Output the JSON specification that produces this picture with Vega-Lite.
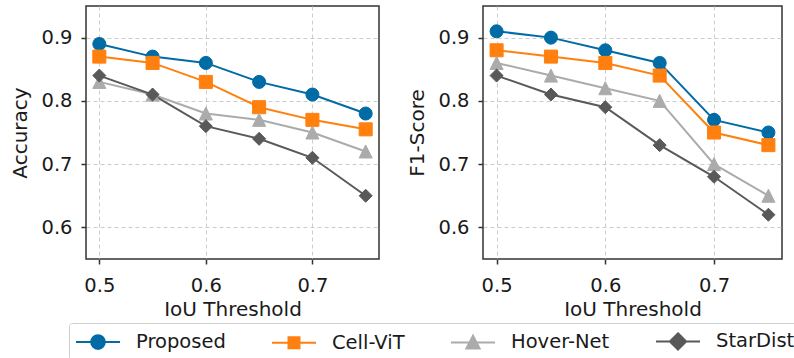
{
  "$schema": "https://vega.github.io/schema/vega-lite/v6.json",
  "padding": {"left": 10, "top": 5, "right": 0, "bottom": 0},
  "background": "white",
  "data": {"values": [
    {"metric": "Accuracy", "method": "Proposed", "iou": 0.5, "value": 0.89},
    {"metric": "Accuracy", "method": "Proposed", "iou": 0.55, "value": 0.87},
    {"metric": "Accuracy", "method": "Proposed", "iou": 0.6, "value": 0.86},
    {"metric": "Accuracy", "method": "Proposed", "iou": 0.65, "value": 0.83},
    {"metric": "Accuracy", "method": "Proposed", "iou": 0.7, "value": 0.81},
    {"metric": "Accuracy", "method": "Proposed", "iou": 0.75, "value": 0.78},
    {"metric": "Accuracy", "method": "Cell-ViT", "iou": 0.5, "value": 0.87},
    {"metric": "Accuracy", "method": "Cell-ViT", "iou": 0.55, "value": 0.86},
    {"metric": "Accuracy", "method": "Cell-ViT", "iou": 0.6, "value": 0.83},
    {"metric": "Accuracy", "method": "Cell-ViT", "iou": 0.65, "value": 0.79},
    {"metric": "Accuracy", "method": "Cell-ViT", "iou": 0.7, "value": 0.77},
    {"metric": "Accuracy", "method": "Cell-ViT", "iou": 0.75, "value": 0.755},
    {"metric": "Accuracy", "method": "Hover-Net", "iou": 0.5, "value": 0.83},
    {"metric": "Accuracy", "method": "Hover-Net", "iou": 0.55, "value": 0.81},
    {"metric": "Accuracy", "method": "Hover-Net", "iou": 0.6, "value": 0.78},
    {"metric": "Accuracy", "method": "Hover-Net", "iou": 0.65, "value": 0.77},
    {"metric": "Accuracy", "method": "Hover-Net", "iou": 0.7, "value": 0.75},
    {"metric": "Accuracy", "method": "Hover-Net", "iou": 0.75, "value": 0.72},
    {"metric": "Accuracy", "method": "StarDist", "iou": 0.5, "value": 0.84},
    {"metric": "Accuracy", "method": "StarDist", "iou": 0.55, "value": 0.81},
    {"metric": "Accuracy", "method": "StarDist", "iou": 0.6, "value": 0.76},
    {"metric": "Accuracy", "method": "StarDist", "iou": 0.65, "value": 0.74},
    {"metric": "Accuracy", "method": "StarDist", "iou": 0.7, "value": 0.71},
    {"metric": "Accuracy", "method": "StarDist", "iou": 0.75, "value": 0.65},
    {"metric": "F1-Score", "method": "Proposed", "iou": 0.5, "value": 0.91},
    {"metric": "F1-Score", "method": "Proposed", "iou": 0.55, "value": 0.90},
    {"metric": "F1-Score", "method": "Proposed", "iou": 0.6, "value": 0.88},
    {"metric": "F1-Score", "method": "Proposed", "iou": 0.65, "value": 0.86},
    {"metric": "F1-Score", "method": "Proposed", "iou": 0.7, "value": 0.77},
    {"metric": "F1-Score", "method": "Proposed", "iou": 0.75, "value": 0.75},
    {"metric": "F1-Score", "method": "Cell-ViT", "iou": 0.5, "value": 0.88},
    {"metric": "F1-Score", "method": "Cell-ViT", "iou": 0.55, "value": 0.87},
    {"metric": "F1-Score", "method": "Cell-ViT", "iou": 0.6, "value": 0.86},
    {"metric": "F1-Score", "method": "Cell-ViT", "iou": 0.65, "value": 0.84},
    {"metric": "F1-Score", "method": "Cell-ViT", "iou": 0.7, "value": 0.75},
    {"metric": "F1-Score", "method": "Cell-ViT", "iou": 0.75, "value": 0.73},
    {"metric": "F1-Score", "method": "Hover-Net", "iou": 0.5, "value": 0.86},
    {"metric": "F1-Score", "method": "Hover-Net", "iou": 0.55, "value": 0.84},
    {"metric": "F1-Score", "method": "Hover-Net", "iou": 0.6, "value": 0.82},
    {"metric": "F1-Score", "method": "Hover-Net", "iou": 0.65, "value": 0.80},
    {"metric": "F1-Score", "method": "Hover-Net", "iou": 0.7, "value": 0.70},
    {"metric": "F1-Score", "method": "Hover-Net", "iou": 0.75, "value": 0.65},
    {"metric": "F1-Score", "method": "StarDist", "iou": 0.5, "value": 0.84},
    {"metric": "F1-Score", "method": "StarDist", "iou": 0.55, "value": 0.81},
    {"metric": "F1-Score", "method": "StarDist", "iou": 0.6, "value": 0.79},
    {"metric": "F1-Score", "method": "StarDist", "iou": 0.65, "value": 0.73},
    {"metric": "F1-Score", "method": "StarDist", "iou": 0.7, "value": 0.68},
    {"metric": "F1-Score", "method": "StarDist", "iou": 0.75, "value": 0.62}
  ]},
  "spacing": 27,
  "hconcat": [
    {
      "width": 293,
      "height": 253,
      "transform": [{"filter": "datum.metric === 'Accuracy'"}],
      "encoding": {
        "x": {"field": "iou", "type": "quantitative", "title": "IoU Threshold",
              "scale": {"domain": [0.4875, 0.7625], "nice": false, "zero": false},
              "axis": {"values": [0.5, 0.6, 0.7], "format": ".1f"}},
        "y": {"field": "value", "type": "quantitative", "title": "Accuracy",
              "scale": {"domain": [0.55, 0.95], "nice": false, "zero": false},
              "axis": {"values": [0.6, 0.7, 0.8, 0.9], "format": ".1f"}},
        "color": {"field": "method", "type": "nominal",
                  "scale": {"domain": ["Proposed", "Cell-ViT", "Hover-Net", "StarDist"], "range": ["#006BA4", "#FF800E", "#ABABAB", "#595959"]},
                  "legend": {
                    "orient": "none", "direction": "horizontal", "columns": 4,
                    "legendX": -17, "legendY": 317, "title": null,
                    "symbolSize": 484, "labelOffset": 37, "columnPadding": 42,
                    "padding": 6, "strokeColor": "#cfcfcf", "fillColor": "white", "cornerRadius": 3,
                    "labelFont": "DejaVu Sans", "labelFontSize": 19.5, "labelColor": "#1a1a1a", "labelLimit": 300,
                    "symbolStrokeWidth": 2, "symbolOpacity": 1,
                    "encode": {"symbols": {"update": {
                      "shape": {"signal": "datum.value === 'Proposed' ? 'M-1,0H3M1.62,0A0.62,0.62 0 1,1 0.38,0A0.62,0.62 0 1,1 1.62,0Z' : datum.value === 'Cell-ViT' ? 'M-1,0H3M0.5,-0.5H1.5V0.5H0.5Z' : datum.value === 'Hover-Net' ? 'M-1,0H3M1,-0.62L0.4,0.55L1.6,0.55Z' : 'M-1,0H3M1,-0.74L1.74,0L1,0.74L0.26,0Z'"},
                      "strokeWidth": {"value": 2},
                      "opacity": {"value": 1}
                    }}}
                  }}
      },
      "layer": [
        {"mark": {"type": "line", "strokeWidth": 2}},
        {"mark": {"type": "point", "filled": true, "opacity": 1, "size": 170, "strokeWidth": 1},
         "encoding": {
           "shape": {"field": "method", "type": "nominal", "legend": null,
                     "scale": {"domain": ["StarDist", "Hover-Net", "Cell-ViT", "Proposed"], "range": ["diamond", "M0,-1L-1,1L1,1Z", "square", "circle"]}},
           "stroke": {"field": "method", "type": "nominal", "legend": null, "scale": {"domain": ["Proposed", "Cell-ViT", "Hover-Net", "StarDist"], "range": ["#006BA4", "#FF800E", "#ABABAB", "#595959"]}}
         }}
      ]
    },
    {
      "width": 299,
      "height": 253,
      "transform": [{"filter": "datum.metric === 'F1-Score'"}],
      "encoding": {
        "x": {"field": "iou", "type": "quantitative", "title": "IoU Threshold",
              "scale": {"domain": [0.4875, 0.7625], "nice": false, "zero": false},
              "axis": {"values": [0.5, 0.6, 0.7], "format": ".1f"}},
        "y": {"field": "value", "type": "quantitative", "title": "F1-Score",
              "scale": {"domain": [0.55, 0.95], "nice": false, "zero": false},
              "axis": {"values": [0.6, 0.7, 0.8, 0.9], "format": ".1f"}},
        "color": {"field": "method", "type": "nominal",
                  "scale": {"domain": ["Proposed", "Cell-ViT", "Hover-Net", "StarDist"], "range": ["#006BA4", "#FF800E", "#ABABAB", "#595959"]},
                  "legend": {
                    "orient": "none", "direction": "horizontal", "columns": 4,
                    "legendX": -17, "legendY": 317, "title": null,
                    "symbolSize": 484, "labelOffset": 37, "columnPadding": 42,
                    "padding": 6, "strokeColor": "#cfcfcf", "fillColor": "white", "cornerRadius": 3,
                    "labelFont": "DejaVu Sans", "labelFontSize": 19.5, "labelColor": "#1a1a1a", "labelLimit": 300,
                    "symbolStrokeWidth": 2, "symbolOpacity": 1,
                    "encode": {"symbols": {"update": {
                      "shape": {"signal": "datum.value === 'Proposed' ? 'M-1,0H3M1.62,0A0.62,0.62 0 1,1 0.38,0A0.62,0.62 0 1,1 1.62,0Z' : datum.value === 'Cell-ViT' ? 'M-1,0H3M0.5,-0.5H1.5V0.5H0.5Z' : datum.value === 'Hover-Net' ? 'M-1,0H3M1,-0.62L0.4,0.55L1.6,0.55Z' : 'M-1,0H3M1,-0.74L1.74,0L1,0.74L0.26,0Z'"},
                      "strokeWidth": {"value": 2},
                      "opacity": {"value": 1}
                    }}}
                  }}
      },
      "layer": [
        {"mark": {"type": "line", "strokeWidth": 2}},
        {"mark": {"type": "point", "filled": true, "opacity": 1, "size": 170, "strokeWidth": 1},
         "encoding": {
           "shape": {"field": "method", "type": "nominal", "legend": null,
                     "scale": {"domain": ["StarDist", "Hover-Net", "Cell-ViT", "Proposed"], "range": ["diamond", "M0,-1L-1,1L1,1Z", "square", "circle"]}},
           "stroke": {"field": "method", "type": "nominal", "legend": null, "scale": {"domain": ["Proposed", "Cell-ViT", "Hover-Net", "StarDist"], "range": ["#006BA4", "#FF800E", "#ABABAB", "#595959"]}}
         }}
      ]
    }
  ],
  "config": {
    "font": "DejaVu Sans",
    "view": {"stroke": "#333333", "strokeWidth": 1.5},
    "axis": {
      "labelFont": "DejaVu Sans", "labelFontSize": 19.5, "labelColor": "#1a1a1a",
      "titleFont": "DejaVu Sans", "titleFontSize": 20, "titleFontWeight": "normal", "titleColor": "#1a1a1a",
      "domain": false, "tickColor": "#333333", "tickWidth": 1.5, "tickSize": 5,
      "gridColor": "#cccccc", "gridDash": [4, 3], "gridWidth": 1
    },
    "axisX": {"labelPadding": 12, "titlePadding": 5},
    "axisY": {"labelPadding": 9, "titlePadding": 10}
  }
}
